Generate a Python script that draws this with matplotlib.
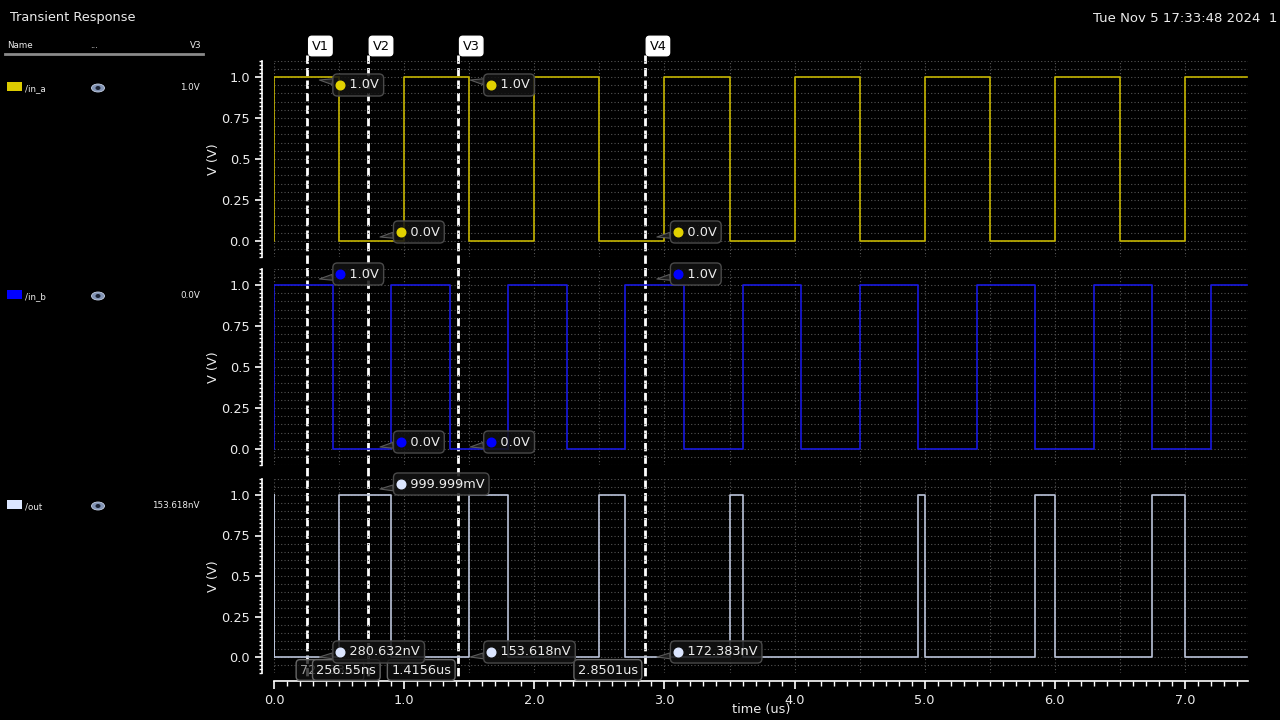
import numpy as np
import matplotlib
matplotlib.use("Agg")
import matplotlib.pyplot as plt
from matplotlib.lines import Line2D
from matplotlib.patches import Ellipse, Rectangle
from matplotlib.transforms import blended_transform_factory, offset_copy

in_a_t = [0.0, 0.0, 0.5, 1.0, 1.5, 2.0, 2.5, 3.0, 3.5, 4.0, 4.5, 5.0, 5.5, 6.0, 6.5, 7.0, 7.48]
in_a_v = [0, 1, 0, 1, 0, 1, 0, 1, 0, 1, 0, 1, 0, 1, 0, 1, 1]
in_b_t = [0.0, 0.0, 0.45, 0.9, 1.35, 1.8, 2.25, 2.7, 3.15, 3.6, 4.05, 4.5, 4.95, 5.4,
          5.85, 6.3, 6.75, 7.2, 7.48]
in_b_v = [0, 1, 0, 1, 0, 1, 0, 1, 0, 1, 0, 1, 0, 1, 0, 1, 0, 1, 1]
out_t = [0.0, 0.0, 0.0, 0.5, 0.9, 1.5, 1.8, 2.5, 2.7, 3.5, 3.6, 4.95, 5.0, 5.85, 6.0,
         6.75, 7.0, 7.48]
out_v = [0, 1, 0, 1, 0, 1, 0, 1, 0, 1, 0, 1, 0, 1, 0, 1, 0, 0]

# vertical cursors
cursor_names = ["V1", "V2", "V3", "V4"]
cursor_t = [0.25655, 0.72233, 1.4156, 2.8501]
cursor_text = ["256.55ns", "722.33ns", "1.4156us", "2.8501us"]

# marker readouts at each cursor
in_a_mark_v = [1.0, 0.0, 1.0, 0.0]
in_a_mark_txt = ["1.0V", "0.0V", "1.0V", "0.0V"]
in_b_mark_v = [1.0, 0.0, 0.0, 1.0]
in_b_mark_txt = ["1.0V", "0.0V", "0.0V", "1.0V"]
out_mark_v = [280.632e-9, 999.999e-3, 153.618e-9, 172.383e-9]
out_mark_txt = ["280.632nV", "999.999mV", "153.618nV", "172.383nV"]

sig_names = ["/in_a", "/in_b", "/out"]
sig_v3 = ["1.0V", "0.0V", "153.618nV"]
y_ticks = [0.0, 0.25, 0.5, 0.75, 1.0]
y_tick_labels = ["0.0", "0.25", "0.5", "0.75", "1.0"]
x_ticks = [0, 1, 2, 3, 4, 5, 6, 7]
x_tick_labels = ["0.0", "1.0", "2.0", "3.0", "4.0", "5.0", "6.0", "7.0"]

line_cols = ["#c4b400", "#1818e0", "#b9c2d8"]
swatch_cols = ["#dccb00", "#0000ff", "#dce6ff"]
dot_cols = ["#e2d200", "#0000ff", "#dce6ff"]
# dot offset above/below the marker point (pixels), per cursor
dot_dy = [[-8, 9, -8, 9], [11, 7, 7, 11], [5, 11, 5, 5]]

W, H = 1280, 720
fig = plt.figure(figsize=(12.8, 7.2), dpi=100, facecolor="black")
plt.rcParams["font.family"] = ["DejaVu Sans"]
TXT = "#ececec"
FS = 9.3


def fx(x):
    return x / W


def fy(y):
    return 1 - y / H


panels = [(60.6, 257.4), (268.6, 465.4), (478.8, 673.2)]
x0, x1 = 274, 1248
axes = []
for i, (top, bot) in enumerate(panels):
    ax = fig.add_axes([fx(x0), fy(bot), (x1 - x0) / W, (bot - top) / H])
    ax.set_facecolor("none")
    ax.set_xlim(0, 7.484)
    ax.set_ylim(-0.1, 1.1)
    for s in ["top", "right"]:
        ax.spines[s].set_visible(False)
    ax.spines["left"].set_position(("outward", 12 * 0.72))
    ax.spines["left"].set_color("white")
    ax.spines["left"].set_linewidth(1.2)
    ax.set_yticks(y_ticks)
    ax.set_yticklabels(y_tick_labels)
    ax.set_yticks(np.arange(-0.1, 1.1001, 0.025), minor=True)
    ax.tick_params(axis="y", which="major", colors="white", labelcolor=TXT,
                   labelsize=FS, length=5, width=1.2)
    ax.tick_params(axis="y", which="minor", colors="white", length=2.5, width=1)
    if i < 2:
        ax.spines["bottom"].set_visible(False)
        ax.set_xticks([])
    else:
        ax.spines["bottom"].set_position(("outward", 8 * 0.72))
        ax.spines["bottom"].set_color("white")
        ax.spines["bottom"].set_linewidth(1.2)
        ax.set_xticks(x_ticks)
        ax.set_xticklabels(x_tick_labels)
        ax.set_xticks(np.arange(0, 7.48, 0.1), minor=True)
        ax.tick_params(axis="x", which="major", colors="white", labelcolor=TXT,
                       labelsize=FS, length=6, width=1.2)
        ax.tick_params(axis="x", which="minor", colors="white", length=3.5, width=1)
    # dotted grid
    for yy in np.arange(-0.1, 1.1001, 0.05):
        ax.axhline(yy, color="#555555", lw=0.8, ls=(0, (1, 2)), zorder=0)
    for xx in np.arange(0, 7.5, 0.5):
        ax.axvline(xx, color="#555555", lw=0.8, ls=(0, (1, 2)), zorder=0)
    fig.text(fx(213), fy((top + bot) / 2), "V (V)", rotation=90, ha="center",
             va="center", color=TXT, fontsize=FS)
    axes.append(ax)

waves = [(in_a_t, in_a_v), (in_b_t, in_b_v), (out_t, out_v)]
for ax, (t, v), c in zip(axes, waves, line_cols):
    ax.plot(t, v, drawstyle="steps-post", color=c, lw=1.2, zorder=2)

fig.text(fx(761), fy(710), "time (us)", ha="center", va="center", color=TXT, fontsize=FS)

# cursor lines (behind the axes so the bubbles sit on top) + labels
blend = blended_transform_factory(axes[2].transData, fig.transFigure)
lab_dx = [9, -8, -7, -7]
lab_ha = ["left", "right", "right", "right"]
for k in [1, 0, 2, 3]:
    t = cursor_t[k]
    fig.add_artist(Line2D([t, t], [fy(55), fy(680)], transform=blend, color="white",
                          lw=2, ls=(0, (3, 1.5)), zorder=-1))
    axes[2].annotate(cursor_names[k], xy=(t, fy(46)), xycoords=blend, xytext=(13, 0),
                     textcoords="offset pixels", ha="center", va="center", color="black",
                     fontsize=FS, annotation_clip=False, zorder=9,
                     bbox=dict(boxstyle="round,pad=0.25", fc="white", ec="white"))
    axes[2].annotate(cursor_text[k], xy=(t, fy(670)), xycoords=blend,
                     xytext=(lab_dx[k], 0), textcoords="offset pixels", ha=lab_ha[k],
                     va="center", color=TXT if k != 1 else "#9a9a9a", fontsize=FS,
                     annotation_clip=False, zorder=9 if k != 1 else 7,
                     bbox=dict(boxstyle="round,pad=0.3", fc=(0.06, 0.06, 0.06, 0.75),
                               ec="#666666", lw=1))

# marker bubbles
marks = [(in_a_mark_v, in_a_mark_txt), (in_b_mark_v, in_b_mark_txt),
         (out_mark_v, out_mark_txt)]
for i, (ax, (vals, txts)) in enumerate(zip(axes, marks)):
    for k, t in enumerate(cursor_t):
        ddy = dot_dy[i][k]
        tip_dy = ddy + (5 if ddy < 0 else -5)
        tip_tr = offset_copy(ax.transData, fig=fig, x=12, y=tip_dy, units="dots")
        ax.annotate("   " + txts[k], xy=(t, vals[k]), xycoords=tip_tr,
                    xytext=(18, ddy - tip_dy), textcoords="offset pixels",
                    ha="left", va="center", color=TXT, fontsize=FS,
                    annotation_clip=False, zorder=10,
                    bbox=dict(boxstyle="round,pad=0.35", fc=(0.07, 0.07, 0.07, 0.85),
                              ec="#4a4a4a", lw=1),
                    arrowprops=dict(arrowstyle="wedge,tail_width=0.45,shrink_factor=0.5",
                                    fc="#1e1e1e", ec="#5a5a5a", lw=0.8,
                                    shrinkA=0, shrinkB=0))
        dot_tr = offset_copy(ax.transData, fig=fig, x=33, y=ddy, units="dots")
        ax.plot([t], [vals[k]], "o", ms=6.2, color=dot_cols[i], mec=dot_cols[i],
                transform=dot_tr, clip_on=False, zorder=11)

# header
fig.text(fx(10), fy(18), "Transient Response", color=TXT, fontsize=FS, va="center")
fig.text(fx(1277), fy(18), "Tue Nov 5 17:33:48 2024  1", color=TXT, fontsize=FS + 0.2,
         va="center", ha="right")

# signal list on the left
fig.text(fx(7), fy(46), "Name", color=TXT, fontsize=6.3, va="center")
fig.text(fx(90), fy(46), "...", color=TXT, fontsize=6.3, va="center")
fig.text(fx(202), fy(46), "V3", color=TXT, fontsize=6.3, va="center", ha="right")
fig.add_artist(Line2D([fx(5), fx(203)], [fy(54), fy(54)], color="#8a8a8a", lw=2))
rows = [87, 295, 505]
for r, name, val, sc in zip(rows, sig_names, sig_v3, swatch_cols):
    fig.add_artist(Rectangle((fx(7), fy(r + 4)), 15 / W, 9 / H, transform=fig.transFigure,
                             fc=sc, ec="none"))
    fig.text(fx(25), fy(r + 2), name, color=TXT, fontsize=6.3, va="center")
    fig.add_artist(Ellipse((fx(98), fy(r + 1)), 13 / W, 8 / H, transform=fig.transFigure,
                           fc="#8193b4", ec="#c8d2e6", lw=0.6))
    fig.add_artist(Ellipse((fx(98), fy(r + 1)), 5 / W, 4 / H, transform=fig.transFigure,
                           fc="#1b2233", ec="none"))
    fig.text(fx(200), fy(r), val, color=TXT, fontsize=6.3, va="center", ha="right")

fig.savefig("out.png", dpi=100, facecolor="black")
